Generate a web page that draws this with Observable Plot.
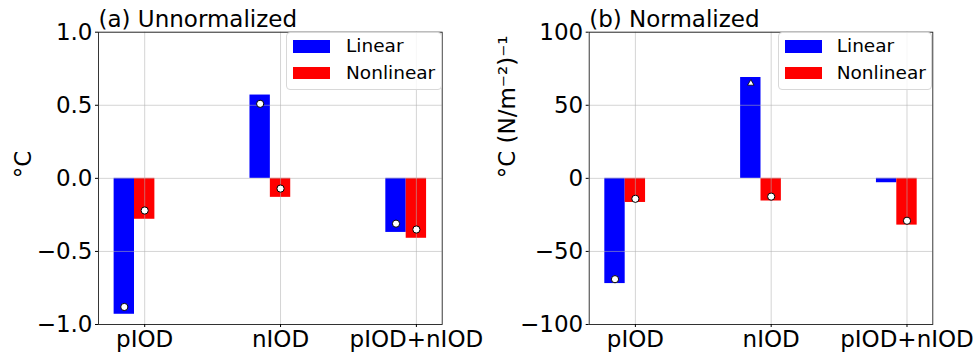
<!DOCTYPE html>
<html>
<head>
<meta charset="utf-8">
<script src="https://cdn.jsdelivr.net/npm/d3@7"></script>
<script src="https://cdn.jsdelivr.net/npm/@observablehq/plot@0.6"></script>
<style>
  html, body { margin: 0; padding: 0; background: white; }
  #wrap { position: relative; width: 977px; height: 355px; overflow: hidden; font-family: "DejaVu Sans", sans-serif; }
  .panel { position: absolute; top: 0; }
  .legend { position: absolute; background: rgba(255,255,255,0.8); border: 1px solid #d8d8d8; border-radius: 4px; box-sizing: border-box; }
  .sw { position: absolute; width: 37px; height: 12.5px; }
  .lt { position: absolute; font-size: 18.5px; line-height: 18.5px; color: #000; }
</style>
</head>
<body>
<div id="wrap"></div>
<script>
// ---- data ----
const categories = ["pIOD", "nIOD", "pIOD+nIOD"];
const seriesNames = ["Linear", "Nonlinear"];
const seriesColors = ["#0000ff", "#ff0000"];

// (a) Unnormalized, °C
const unnormLinear = [-0.93, 0.57, -0.37];
const unnormNonlinear = [-0.28, -0.13, -0.41];
const unnormLinearDots = [-0.88, 0.51, -0.31];
const unnormNonlinearDots = [-0.22, -0.07, -0.35];
const unnormLinearSymbols = ["circle", "circle", "circle"];
const unnormYTicks = [-1.0, -0.5, 0.0, 0.5, 1.0];

// (b) Normalized, °C (N/m^-2)^-1
const normLinear = [-72, 69, -3];
const normNonlinear = [-16.5, -15.5, -32];
const normLinearDots = [-69, 65, null];
const normNonlinearDots = [-14, -12.5, -29];
const normLinearSymbols = ["circle", "triangle", null];
const normYTicks = [-100, -50, 0, 50, 100];

// ---- layout ----
const barWidth = 0.15;
const seriesOffsets = [-0.15, 0];
const xDomain = [-0.34, 2.19];
const FS = 23;

function makePanel(o) {
  const bars = [];
  const dots = [];
  [o.lin, o.non].forEach((vals, s) => {
    vals.forEach((v, i) => {
      bars.push({i, s, value: v, color: seriesColors[s], center: i + seriesOffsets[s]});
    });
  });
  [o.linDots, o.nonDots].forEach((vals, s) => {
    vals.forEach((v, i) => {
      if (v == null) return;
      const sym = s === 0 ? o.linSym[i] : "circle";
      dots.push({i, s, value: v, symbol: sym, center: i + seriesOffsets[s]});
    });
  });
  return Plot.plot({
    width: o.width,
    height: 355,
    marginLeft: o.marginLeft,
    marginRight: o.marginRight,
    marginTop: 31.7,
    marginBottom: 31,
    x: {type: "linear", domain: xDomain},
    y: {type: "linear", domain: o.yDomain},
    color: {type: "identity"},
    style: {fontFamily: "DejaVu Sans", fontSize: FS + "px", background: "white", overflow: "visible", color: "black"},
    marks: [
      Plot.rect(bars, {
        x1: d => d.center - barWidth / 2,
        x2: d => d.center + barWidth / 2,
        y1: 0,
        y2: "value",
        fill: "color"
      }),
      Plot.gridX({ticks: [0, 1, 2], stroke: "#b0b0b0", strokeOpacity: 0.55, strokeWidth: 1}),
      Plot.gridY({ticks: o.yTicks, stroke: "#b0b0b0", strokeOpacity: 0.55, strokeWidth: 1}),
      Plot.dot(dots.filter(d => d.symbol === "circle"), {
        x: "center", y: "value", symbol: "circle", r: 3.6, fill: "white", stroke: "black", strokeWidth: 1
      }),
      Plot.dot(dots.filter(d => d.symbol === "triangle"), {
        x: "center", y: "value", symbol: "triangle", r: 2.4, fill: "white", stroke: "black", strokeWidth: 0.8
      }),
      Plot.frame({stroke: "#222", strokeWidth: 0.9}),
      Plot.axisY({ticks: o.yTicks, tickFormat: o.yFmt, tickSize: 3, tickPadding: 3, fontSize: FS, label: null}),
      Plot.axisX({ticks: [0, 1, 2], tickFormat: i => categories[i], tickSize: 3, tickPadding: 3, fontSize: FS, label: null}),
      Plot.text([o.title], {frameAnchor: "top-left", text: d => d, textAnchor: "start", lineAnchor: "bottom", dy: -5, fontSize: FS}),
      Plot.text([o.ylabel], {frameAnchor: "left", text: d => d, rotate: -90, dx: o.ylabelDx, fontSize: FS})
    ]
  });
}

const wrap = document.getElementById("wrap");

const panels = [
  {
    left: 0, width: 488, marginLeft: 98, marginRight: 46.3,
    title: "(a) Unnormalized", ylabel: "°C", ylabelDx: -75,
    yDomain: [-1, 1], yTicks: unnormYTicks, yFmt: d3.format(".1f"),
    lin: unnormLinear, non: unnormNonlinear, linDots: unnormLinearDots, nonDots: unnormNonlinearDots, linSym: unnormLinearSymbols,
    legend: {left: 286, swLeft: 293, textLeft: 346}
  },
  {
    left: 490, width: 487, marginLeft: 98.7, marginRight: 44.7,
    title: "(b) Normalized", ylabel: "°C (N/m⁻²)⁻¹", ylabelDx: -82,
    yDomain: [-100, 100], yTicks: normYTicks, yFmt: d3.format("d"),
    lin: normLinear, non: normNonlinear, linDots: normLinearDots, nonDots: normNonlinearDots, linSym: normLinearSymbols,
    legend: {left: 777.7, swLeft: 785, textLeft: 836.7}
  }
];

panels.forEach(p => {
  const svg = makePanel(p);
  svg.classList.add("panel");
  svg.style.left = p.left + "px";
  wrap.appendChild(svg);

  // legend (upper right, inside axes)
  const frameRight = p.left + p.width - p.marginRight;
  const lg = document.createElement("div");
  lg.className = "legend";
  lg.style.left = p.legend.left + "px";
  lg.style.top = "31.7px";
  lg.style.width = (frameRight - p.legend.left) + "px";
  lg.style.height = "58px";
  wrap.appendChild(lg);
  seriesNames.forEach((name, s) => {
    const sw = document.createElement("div");
    sw.className = "sw";
    sw.style.background = seriesColors[s];
    sw.style.left = p.legend.swLeft + "px";
    sw.style.top = (40 + s * 26.7) + "px";
    wrap.appendChild(sw);
    const t = document.createElement("div");
    t.className = "lt";
    t.textContent = name;
    t.style.left = p.legend.textLeft + "px";
    t.style.top = (40 + s * 26.7 - 3) + "px";
    wrap.appendChild(t);
  });
});
</script>
</body>
</html>
